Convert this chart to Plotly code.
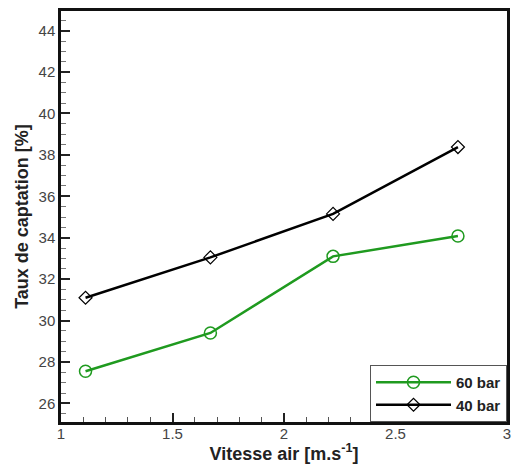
import plotly.graph_objects as go

vitesse = [1.11, 1.67, 2.22, 2.78]
taux_60bar = [27.55, 29.4, 33.1, 34.08]
taux_40bar = [31.1, 33.05, 35.15, 38.38]
x_ticks = [1, 1.5, 2, 2.5, 3]
x_tick_labels = ["1", "1.5", "2", "2.5", "3"]
y_ticks = [26, 28, 30, 32, 34, 36, 38, 40, 42, 44]

FONT = "Liberation Sans, Arial, sans-serif"
GREEN = "#1f9a1f"

fig = go.Figure()
fig.add_trace(go.Scatter(
    x=vitesse, y=taux_60bar, name="60 bar", mode="lines+markers",
    line=dict(color=GREEN, width=2.5),
    marker=dict(symbol="circle-open", size=12, color=GREEN, line=dict(width=1.5, color=GREEN)),
))
fig.add_trace(go.Scatter(
    x=vitesse, y=taux_40bar, name="40 bar", mode="lines+markers",
    line=dict(color="black", width=2.5),
    marker=dict(symbol="diamond-open", size=10, color="black", line=dict(width=1.2, color="#333333")),
))

fig.update_layout(
    width=516, height=464,
    margin=dict(l=61, r=5, t=11, b=42),
    paper_bgcolor="white", plot_bgcolor="white",
    font=dict(family=FONT, size=13, color="#333333"),
    showlegend=True,
    legend=dict(
        x=1, y=0, xanchor="right", yanchor="bottom",
        bgcolor="white", bordercolor="#555555", borderwidth=1,
        font=dict(family=FONT, size=15, color="#222222", weight="bold"),
        itemwidth=75, tracegroupgap=0,
    ),
)
fig.update_xaxes(
    range=[1, 3], tickmode="array", tickvals=x_ticks, ticktext=x_tick_labels,
    ticks="inside", ticklen=9, tickwidth=2, tickcolor="#222222",
    minor=dict(dtick=0.1, ticks="inside", ticklen=5, tickwidth=1, tickcolor="#555555"),
    showgrid=False, zeroline=False,
    showline=True, linewidth=2.5, linecolor="#111111", mirror=True,
    ticklabelstandoff=-4,
    title=dict(text="Vitesse air [m.s<sup>-1</sup>]", standoff=0,
               font=dict(family=FONT, size=18, color="#222222", weight="bold")),
    tickfont=dict(family=FONT, size=15, color="#444444"),
)
fig.update_yaxes(
    range=[25.1, 44.95], tickmode="array", tickvals=y_ticks,
    ticks="inside", ticklen=9, tickwidth=2, tickcolor="#222222",
    minor=dict(dtick=0.5, tick0=0, ticks="inside", ticklen=5, tickwidth=1, tickcolor="#777777"),
    showgrid=False, zeroline=False,
    showline=True, linewidth=2.5, linecolor="#111111", mirror=True,
    title=dict(text="Taux de captation [%]", standoff=6,
               font=dict(family=FONT, size=18, color="#222222", weight="bold")),
    tickfont=dict(family=FONT, size=15, color="#444444"),
)

fig.write_html("out.html", config={"displayModeBar": False},
               post_script="document.body.style.margin='0px';")
